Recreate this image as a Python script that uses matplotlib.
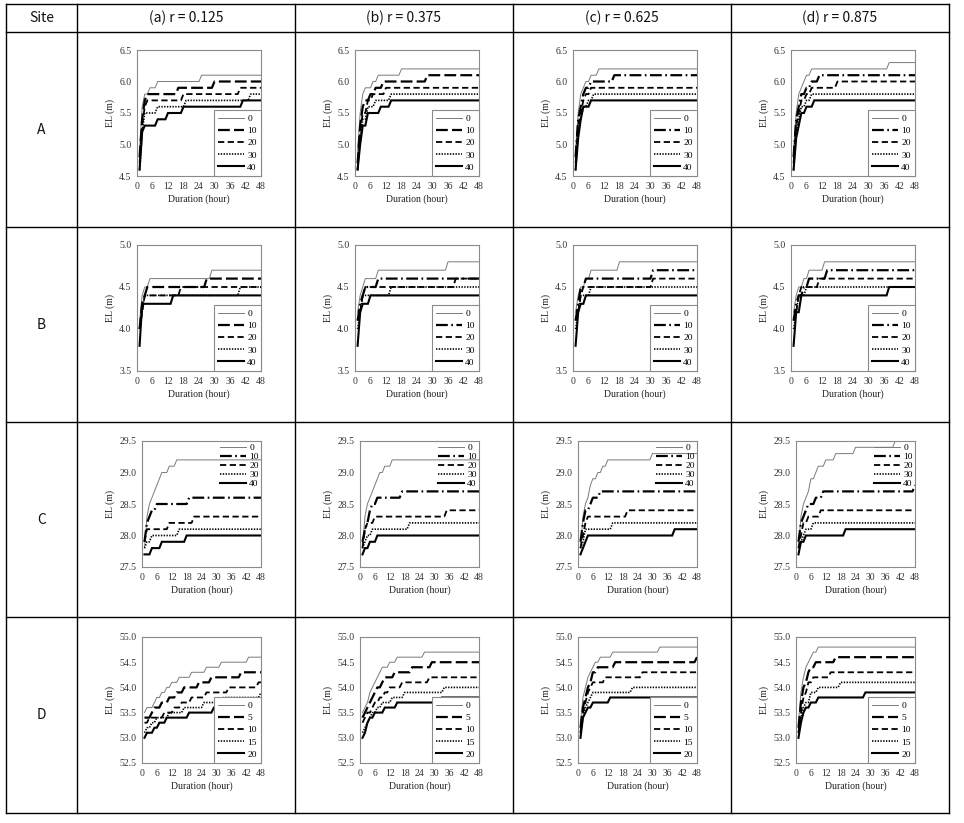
import numpy as np
import matplotlib
matplotlib.use("Agg")
import matplotlib.pyplot as plt
from matplotlib.lines import Line2D

# ---------------- data (change points: hour, EL value) ----------------
sites = ["A", "B", "C", "D"]
col_titles = ["(a) r = 0.125", "(b) r = 0.375", "(c) r = 0.625", "(d) r = 0.875"]
legend_ABC = ["0", "10", "20", "30", "40"]
legend_D = ["0", "5", "10", "15", "20"]
x_ticks = [0, 6, 12, 18, 24, 30, 36, 42, 48]
y_ticks_A = [4.5, 5.0, 5.5, 6.0, 6.5]
y_ticks_B = [3.5, 4.0, 4.5, 5.0]
y_ticks_C = [27.5, 28.0, 28.5, 29.0, 29.5]
y_ticks_D = [52.5, 53.0, 53.5, 54.0, 54.5, 55.0]

# Site A
A_a_t = [[1, 2, 3, 5, 8, 25], [1, 2, 3, 4, 16, 30], [1, 2, 3, 4, 18, 40],
         [1, 2, 3, 8, 19, 44], [1, 2, 3, 8, 12, 18, 41]]
A_a_v = [[4.9, 5.6, 5.8, 5.9, 6.0, 6.1], [4.8, 5.4, 5.7, 5.8, 5.9, 6.0], [4.7, 5.3, 5.6, 5.7, 5.8, 5.9],
         [4.6, 5.2, 5.5, 5.6, 5.7, 5.8], [4.6, 5.2, 5.3, 5.4, 5.5, 5.6, 5.7]]
A_b_t = [[1, 2, 3, 4, 7, 9, 18], [1, 2, 3, 4, 6, 8, 11, 28], [1, 2, 3, 5, 7, 12],
         [1, 2, 3, 5, 8, 14], [1, 2, 3, 5, 10, 14]]
A_b_v = [[4.9, 5.5, 5.8, 5.9, 6.0, 6.1, 6.2], [4.7, 5.3, 5.6, 5.7, 5.8, 5.9, 6.0, 6.1],
         [4.6, 5.2, 5.5, 5.7, 5.8, 5.9], [4.6, 5.1, 5.4, 5.6, 5.7, 5.8], [4.6, 5.0, 5.3, 5.5, 5.6, 5.7]]
A_c_t = [[1, 2, 3, 4, 5, 7, 10], [1, 2, 3, 4, 5, 7, 16], [1, 2, 3, 4, 5, 7],
         [1, 2, 3, 4, 6, 8], [1, 2, 3, 4, 7]]
A_c_v = [[4.9, 5.5, 5.8, 5.9, 6.0, 6.1, 6.2], [4.8, 5.4, 5.6, 5.8, 5.9, 6.0, 6.1],
         [4.7, 5.3, 5.5, 5.7, 5.8, 5.9], [4.6, 5.2, 5.4, 5.6, 5.7, 5.8], [4.6, 5.1, 5.4, 5.6, 5.7]]
A_d_t = [[1, 2, 3, 4, 5, 6, 8, 38], [1, 2, 3, 4, 6, 8, 11], [1, 2, 3, 4, 6, 8, 18],
         [1, 2, 3, 4, 6, 8], [1, 2, 3, 4, 6, 9]]
A_d_v = [[4.9, 5.5, 5.8, 5.9, 6.0, 6.1, 6.2, 6.3], [4.8, 5.4, 5.6, 5.8, 5.9, 6.0, 6.1],
         [4.7, 5.3, 5.5, 5.7, 5.8, 5.9, 6.0], [4.6, 5.2, 5.4, 5.6, 5.7, 5.8], [4.6, 5.1, 5.3, 5.5, 5.6, 5.7]]

# Site B
B_a_t = [[1, 2, 3, 5, 29], [1, 2, 3, 4, 27], [1, 2, 3, 17], [1, 2, 3, 40], [1, 2, 14]]
B_a_v = [[4.1, 4.4, 4.5, 4.6, 4.7], [4.0, 4.3, 4.4, 4.5, 4.6], [4.0, 4.2, 4.4, 4.5],
         [4.0, 4.2, 4.4, 4.5], [3.8, 4.3, 4.4]]
B_b_t = [[1, 2, 3, 4, 9, 36], [1, 2, 3, 4, 9], [1, 2, 3, 4, 39], [1, 2, 3, 14], [1, 2, 3, 6]]
B_b_v = [[4.2, 4.4, 4.5, 4.6, 4.7, 4.8], [4.1, 4.3, 4.4, 4.5, 4.6], [4.1, 4.2, 4.4, 4.5, 4.6],
         [4.0, 4.2, 4.4, 4.5], [3.8, 4.2, 4.3, 4.4]]
B_c_t = [[1, 2, 3, 5, 7, 18], [1, 2, 3, 5, 31], [1, 2, 3, 4, 31], [1, 2, 3, 7], [1, 2, 3, 5]]
B_c_v = [[4.2, 4.4, 4.5, 4.6, 4.7, 4.8], [4.1, 4.3, 4.5, 4.6, 4.7], [4.1, 4.2, 4.4, 4.5, 4.6],
         [4.0, 4.2, 4.4, 4.5], [3.8, 4.2, 4.3, 4.4]]
B_d_t = [[1, 2, 3, 5, 7, 13], [1, 2, 3, 5, 7, 14], [1, 2, 3, 4, 11], [1, 2, 3, 6], [1, 2, 4, 38]]
B_d_v = [[4.2, 4.4, 4.5, 4.6, 4.7, 4.8], [4.1, 4.3, 4.4, 4.5, 4.6, 4.7], [4.1, 4.2, 4.4, 4.5, 4.6],
         [4.0, 4.2, 4.4, 4.5], [3.8, 4.2, 4.4, 4.5]]

# Site C
C_a_t = [[1, 2, 3, 4, 5, 6, 7, 8, 11, 14], [1, 2, 3, 4, 6, 19], [1, 2, 11, 21], [1, 2, 4, 15], [1, 4, 8, 18]]
C_a_v = [[27.8, 28.3, 28.5, 28.6, 28.7, 28.8, 28.9, 29.0, 29.1, 29.2],
         [27.9, 28.2, 28.3, 28.4, 28.5, 28.6], [27.9, 28.1, 28.2, 28.3],
         [27.8, 27.9, 28.0, 28.1], [27.7, 27.8, 27.9, 28.0]]
C_b_t = [[1, 2, 3, 4, 5, 6, 7, 8, 10, 13], [1, 2, 3, 4, 5, 7, 17], [1, 2, 3, 6, 35],
         [1, 2, 3, 5, 20], [1, 2, 4, 7]]
C_b_v = [[27.8, 28.3, 28.5, 28.6, 28.7, 28.8, 28.9, 29.0, 29.1, 29.2],
         [27.9, 28.1, 28.2, 28.4, 28.5, 28.6, 28.7], [27.8, 28.1, 28.2, 28.3, 28.4],
         [27.8, 27.9, 28.0, 28.1, 28.2], [27.7, 27.8, 27.9, 28.0]]
C_c_t = [[1, 2, 3, 4, 5, 6, 8, 10, 12, 30], [1, 2, 3, 5, 6, 9], [1, 2, 3, 4, 20],
         [1, 2, 3, 14], [1, 2, 3, 4, 39]]
C_c_v = [[27.8, 28.3, 28.5, 28.6, 28.8, 28.9, 29.0, 29.1, 29.2, 29.3],
         [27.9, 28.2, 28.4, 28.5, 28.6, 28.7], [27.8, 28.0, 28.2, 28.3, 28.4],
         [27.8, 27.9, 28.1, 28.2], [27.7, 27.8, 27.9, 28.0, 28.1]]
C_d_t = [[1, 2, 3, 4, 5, 6, 8, 9, 12, 16, 24, 40], [1, 2, 3, 4, 5, 8, 11, 48], [1, 2, 3, 5, 10],
         [1, 2, 3, 4, 7], [1, 2, 4, 20]]
C_d_v = [[27.8, 28.3, 28.5, 28.6, 28.7, 28.9, 29.0, 29.1, 29.2, 29.3, 29.4, 29.5],
         [27.9, 28.2, 28.3, 28.4, 28.5, 28.6, 28.7, 28.8], [27.8, 28.0, 28.2, 28.3, 28.4],
         [27.8, 27.9, 28.0, 28.1, 28.2], [27.7, 27.9, 28.0, 28.1]]

# Site D
D_a_t = [[1, 2, 5, 6, 8, 10, 12, 15, 20, 26, 32, 43], [1, 4, 5, 8, 11, 14, 17, 23, 28, 40],
         [1, 3, 9, 13, 16, 20, 26, 35, 47], [1, 2, 4, 6, 11, 17, 25, 33, 48],
         [1, 2, 5, 7, 10, 19, 29, 40]]
D_a_v = [[53.5, 53.6, 53.7, 53.8, 53.9, 54.0, 54.1, 54.2, 54.3, 54.4, 54.5, 54.6],
         [53.4, 53.5, 53.6, 53.7, 53.8, 53.9, 54.0, 54.1, 54.2, 54.3],
         [53.3, 53.4, 53.5, 53.6, 53.7, 53.8, 53.9, 54.0, 54.1],
         [53.1, 53.2, 53.3, 53.4, 53.5, 53.6, 53.7, 53.8, 53.9],
         [53.0, 53.1, 53.2, 53.3, 53.4, 53.5, 53.6, 53.7]]
D_b_t = [[1, 2, 3, 4, 5, 6, 7, 8, 9, 12, 15, 26], [1, 2, 3, 4, 5, 6, 7, 9, 10, 14, 21, 29],
         [1, 2, 3, 5, 6, 8, 10, 12, 17, 28], [1, 2, 3, 4, 5, 7, 9, 13, 18, 34],
         [1, 2, 3, 4, 6, 10, 15, 33]]
D_b_v = [[53.5, 53.6, 53.7, 53.9, 54.0, 54.1, 54.2, 54.3, 54.4, 54.5, 54.6, 54.7],
         [53.4, 53.5, 53.6, 53.7, 53.8, 53.9, 54.0, 54.1, 54.2, 54.3, 54.4, 54.5],
         [53.3, 53.4, 53.5, 53.6, 53.7, 53.8, 53.9, 54.0, 54.1, 54.2],
         [53.1, 53.2, 53.3, 53.4, 53.5, 53.6, 53.7, 53.8, 53.9, 54.0],
         [53.0, 53.1, 53.3, 53.4, 53.5, 53.6, 53.7, 53.8]]
D_c_t = [[1, 2, 3, 4, 5, 6, 7, 9, 14, 33], [1, 2, 3, 4, 5, 6, 8, 15, 48],
         [1, 2, 3, 4, 5, 6, 11, 26], [1, 2, 3, 4, 5, 6, 22], [1, 2, 3, 4, 6, 13]]
D_c_v = [[53.3, 53.8, 54.0, 54.2, 54.3, 54.4, 54.5, 54.6, 54.7, 54.8],
         [53.2, 53.6, 53.8, 54.0, 54.1, 54.3, 54.4, 54.5, 54.6],
         [53.1, 53.5, 53.7, 53.9, 54.0, 54.1, 54.2, 54.3],
         [53.1, 53.4, 53.6, 53.7, 53.8, 53.9, 54.0], [53.0, 53.4, 53.5, 53.6, 53.7, 53.8]]
D_d_t = [[1, 2, 3, 4, 5, 6, 7, 9], [1, 2, 3, 4, 5, 6, 8, 16], [1, 2, 3, 4, 5, 7, 14],
         [1, 2, 3, 4, 6, 9, 18], [1, 2, 3, 4, 6, 9, 28]]
D_d_v = [[53.3, 53.9, 54.2, 54.4, 54.5, 54.6, 54.7, 54.8],
         [53.2, 53.7, 54.0, 54.1, 54.3, 54.4, 54.5, 54.6],
         [53.1, 53.5, 53.8, 53.9, 54.1, 54.2, 54.3],
         [53.1, 53.4, 53.6, 53.7, 53.9, 54.0, 54.1],
         [53.0, 53.3, 53.5, 53.6, 53.7, 53.8, 53.9]]

panel_t = [[A_a_t, A_b_t, A_c_t, A_d_t], [B_a_t, B_b_t, B_c_t, B_d_t],
           [C_a_t, C_b_t, C_c_t, C_d_t], [D_a_t, D_b_t, D_c_t, D_d_t]]
panel_v = [[A_a_v, A_b_v, A_c_v, A_d_v], [B_a_v, B_b_v, B_c_v, B_d_v],
           [C_a_v, C_b_v, C_c_v, C_d_v], [D_a_v, D_b_v, D_c_v, D_d_v]]
row_ylim = [(4.5, 6.5), (3.5, 5.0), (27.5, 29.5), (52.5, 55.0)]
row_yticks = [y_ticks_A, y_ticks_B, y_ticks_C, y_ticks_D]
row_labels = [legend_ABC, legend_ABC, legend_ABC, legend_D]
# whether the 2nd series is drawn long-dash-dot
dashdot_flag = [[False, False, True, True], [False, True, True, True],
                [True, True, True, True], [False, False, False, False]]

hours = np.arange(1, 49)


def expand(t, v):
    idx = np.searchsorted(np.array(t), hours, side="right") - 1
    return np.array(v)[idx]


# ---------------- figure ----------------
W, H = 964, 823
plt.rcParams["lines.scale_dashes"] = False
fig = plt.figure(figsize=(W / 100, H / 100), dpi=100)
fig.patch.set_facecolor("white")

bg = fig.add_axes([0, 0, 1, 1])
bg.set_xlim(0, W)
bg.set_ylim(H, 0)
bg.axis("off")

col_x = [6, 77, 295, 513, 731, 949]
row_y = [4, 32, 227, 422, 617, 813]
for x in col_x:
    bg.add_line(Line2D([x, x], [row_y[0], row_y[-1]], color="black", lw=1.0))
for y in row_y:
    bg.add_line(Line2D([col_x[0], col_x[-1]], [y, y], color="black", lw=1.0))

hdr_font = dict(family=["Noto Sans CJK KR", "DejaVu Sans"], fontsize=10, color="#111111")
bg.text((col_x[0] + col_x[1]) / 2, (row_y[0] + row_y[1]) / 2, "Site", ha="center", va="center", **hdr_font)
for c in range(4):
    bg.text((col_x[c + 1] + col_x[c + 2]) / 2, (row_y[0] + row_y[1]) / 2, col_titles[c],
            ha="center", va="center", **hdr_font)
for r in range(4):
    bg.text((col_x[0] + col_x[1]) / 2, (row_y[r + 1] + row_y[r + 2]) / 2, sites[r],
            ha="center", va="center", **hdr_font)

serif = "Liberation Serif"
styles = [
    dict(color="#7a7a7a", lw=0.7, ls="-"),
    dict(color="black", lw=1.6, dashes=(8.5, 3.0)),
    dict(color="black", lw=1.3, dashes=(4.5, 2.5)),
    dict(color="black", lw=1.2, dashes=(1.0, 1.0)),
    dict(color="black", lw=1.5, ls="-"),
]

left_off = [60, 60, 65, 65]
top_off = [18, 18, 19, 20]
ph = 126

for r in range(4):
    for c in range(4):
        x0 = col_x[c + 1] + left_off[r]
        x1 = col_x[c + 1] + 184
        y0 = row_y[r + 1] + top_off[r]
        ax = fig.add_axes([x0 / W, 1 - (y0 + ph) / H, (x1 - x0) / W, ph / H])
        handles = []
        for k in range(5):
            st = dict(styles[k])
            if k == 1 and dashdot_flag[r][c]:
                st["dashes"] = (8.5, 2.5, 1.2, 2.5)
            yv = expand(panel_t[r][c][k], panel_v[r][c][k])
            ln, = ax.plot(hours, yv, solid_joinstyle="miter", **st)
            handles.append(ln)
        ax.set_xlim(0, 48)
        ax.set_ylim(*row_ylim[r])
        ax.set_xticks(x_ticks)
        ax.set_yticks(row_yticks[r])
        ax.set_xticklabels([str(v) for v in x_ticks], family=serif, fontsize=7, color="#333333")
        ax.set_yticklabels([f"{v:.1f}" for v in row_yticks[r]], family=serif, fontsize=7, color="#333333")
        ax.tick_params(length=0, pad=4)
        for sp in ax.spines.values():
            sp.set_color("#8a8a8a")
            sp.set_linewidth(0.8)
        ax.set_xlabel("Duration (hour)", family=serif, fontsize=7, color="#222222", labelpad=3)
        ax.set_ylabel("EL (m)", family=serif, fontsize=7, color="#222222", labelpad=3)
        if r == 2:
            leg = ax.legend(handles, row_labels[r], loc="upper right", borderaxespad=0,
                            prop=dict(family=serif, size=6.8), labelspacing=0.05, borderpad=0.25,
                            handlelength=2.8, handletextpad=0.3, fancybox=False, framealpha=0)
        else:
            leg = ax.legend(handles, row_labels[r], loc="lower right", borderaxespad=0,
                            prop=dict(family=serif, size=6.8), labelspacing=0.38, borderpad=0.45,
                            handlelength=2.8, handletextpad=0.3, fancybox=False, framealpha=1)
        leg.get_frame().set_edgecolor("#8a8a8a")
        leg.get_frame().set_linewidth(0.8)

fig.savefig("out.png", dpi=100, facecolor="white")
